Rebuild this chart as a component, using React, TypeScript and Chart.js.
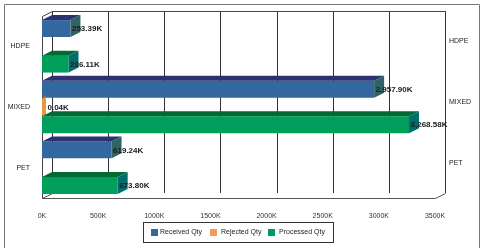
import React, { useEffect, useRef } from "react";
import { Chart, registerables } from "chart.js";

Chart.register(...registerables);

const categories = ["HDPE", "MIXED", "PET"];
const receivedQty: (number | null)[] = [253.39, 2957.9, 619.24];
const rejectedQty: (number | null)[] = [null, 0.04, null];
const processedQty: (number | null)[] = [236.11, 3268.58, 673.8];
const seriesNames = ["Received Qty", "Rejected Qty", "Processed Qty"];
const axisMax = 3500;
const axisStep = 500;

const FONT = "'Liberation Sans', Arial, sans-serif";
const DX = 10;
const DY = 5;

const faceColors = [
  { front: "#3466a0", top: "#2c3170", side: "#2e6464", legend: "#336699" },
  { front: "#e39a3a", top: "#b07024", side: "#9a6a2c", legend: "#f59a5a" },
  { front: "#00a05c", top: "#006a32", side: "#006e6e", legend: "#009966" },
];

const fmt = (v: number) =>
  v.toLocaleString("en-US", { minimumFractionDigits: 2, maximumFractionDigits: 2 }) + "K";

const threeD = {
  id: "threeD",
  beforeDatasetsDraw(chart: any) {
    const { ctx, chartArea: a, scales } = chart;
    const xs = scales.x;
    ctx.save();
    ctx.lineWidth = 1;
    ctx.strokeStyle = "#333";
    for (let v = 0; v <= axisMax; v += axisStep) {
      const px = Math.round(xs.getPixelForValue(v) + DX) + 0.5;
      ctx.beginPath();
      ctx.moveTo(px, a.top - DY);
      ctx.lineTo(px, a.bottom - DY);
      ctx.stroke();
    }
    const L = Math.round(a.left) + 0.5;
    const R = Math.round(a.right) + 0.5;
    const T = Math.round(a.top) + 0.5;
    const B = Math.round(a.bottom) + 0.5;
    ctx.strokeStyle = "#444";
    ctx.beginPath();
    ctx.moveTo(L + DX, T - DY);
    ctx.lineTo(R + DX, T - DY);
    ctx.stroke();
    ctx.beginPath();
    ctx.moveTo(L, B);
    ctx.lineTo(L, T);
    ctx.lineTo(L + DX, T - DY);
    ctx.stroke();
    ctx.strokeStyle = "#555";
    ctx.beginPath();
    ctx.moveTo(L + DX, B - DY);
    ctx.lineTo(L, B);
    ctx.lineTo(R, B);
    ctx.lineTo(R + DX, B - DY);
    ctx.stroke();
    ctx.restore();
  },
  afterDatasetsDraw(chart: any) {
    const { ctx } = chart;
    ctx.save();
    chart.data.datasets.forEach((ds: any, di: number) => {
      const meta = chart.getDatasetMeta(di);
      const c = faceColors[di];
      meta.data.forEach((el: any, i: number) => {
        if (ds.data[i] == null) return;
        const p = el.getProps(["x", "y", "base", "height"], true);
        const x0 = p.base;
        const yT = p.y - p.height / 2;
        const yB = p.y + p.height / 2;
        if (p.x - p.base < 6) {
          // tiny bar: only a small wedge on top
          const x1 = p.x;
          ctx.fillStyle = c.top;
          ctx.beginPath();
          ctx.moveTo(x0, yT);
          ctx.lineTo(x1, yT - 4);
          ctx.lineTo(x1, yT);
          ctx.closePath();
          ctx.fill();
          return;
        }
        const x1 = p.x;
        ctx.fillStyle = c.top;
        ctx.beginPath();
        ctx.moveTo(x0, yT);
        ctx.lineTo(x0 + DX, yT - DY);
        ctx.lineTo(x1 + DX, yT - DY);
        ctx.lineTo(x1, yT);
        ctx.closePath();
        ctx.fill();
        ctx.fillStyle = c.side;
        ctx.beginPath();
        ctx.moveTo(x1, yT);
        ctx.lineTo(x1 + DX, yT - DY);
        ctx.lineTo(x1 + DX, yB - DY);
        ctx.lineTo(x1, yB);
        ctx.closePath();
        ctx.fill();
      });
    });
    ctx.restore();
  },
  afterDraw(chart: any) {
    const { ctx, scales } = chart;
    ctx.save();
    ctx.font = `bold 8px ${FONT}`;
    ctx.fillStyle = "#1a1a1a";
    ctx.textAlign = "left";
    ctx.textBaseline = "middle";
    chart.data.datasets.forEach((ds: any, di: number) => {
      const meta = chart.getDatasetMeta(di);
      meta.data.forEach((el: any, i: number) => {
        const v = ds.data[i];
        if (v == null) return;
        const p = el.getProps(["x", "y", "base"], true);
        ctx.fillText(fmt(v), p.x + 1.5, p.y + 0.5);
      });
    });
    ctx.font = `7px ${FONT}`;
    ctx.fillStyle = "#222";
    categories.forEach((cat, i) => {
      const py = scales.y.getPixelForValue(i);
      ctx.fillText(cat, 449, py - 5);
    });
    const lx = 143.5, ly = 222.5, lw = 190, lh = 20;
    ctx.strokeStyle = "#333";
    ctx.lineWidth = 1;
    ctx.fillStyle = "#fff";
    ctx.fillRect(lx, ly, lw, lh);
    ctx.strokeRect(lx, ly, lw, lh);
    const items = [
      { sx: 151, tx: 160 },
      { sx: 210, tx: 221 },
      { sx: 268, tx: 279 },
    ];
    ctx.font = `7px ${FONT}`;
    items.forEach((it, k) => {
      ctx.fillStyle = faceColors[k].legend;
      ctx.fillRect(it.sx, 229, 7, 7);
      ctx.fillStyle = "#222";
      ctx.fillText(seriesNames[k], it.tx, 232.5);
    });
    ctx.strokeStyle = "#777";
    ctx.beginPath();
    ctx.moveTo(4.5, 250);
    ctx.lineTo(4.5, 4.5);
    ctx.lineTo(479.5, 4.5);
    ctx.lineTo(479.5, 250);
    ctx.stroke();
    ctx.restore();
  },
};

export default function App() {
  const ref = useRef<HTMLCanvasElement>(null);
  useEffect(() => {
    document.body.style.margin = "0";
    const chart = new Chart(ref.current!, {
      type: "bar",
      data: {
        labels: categories,
        datasets: [
          { label: seriesNames[0], data: receivedQty, backgroundColor: faceColors[0].front },
          { label: seriesNames[1], data: rejectedQty, backgroundColor: faceColors[1].front, minBarLength: 4 },
          { label: seriesNames[2], data: processedQty, backgroundColor: faceColors[2].front },
        ] as any,
      },
      options: {
        indexAxis: "y",
        animation: false,
        responsive: false,
        maintainAspectRatio: false,
        layout: { padding: { left: 0, right: 45, top: 16, bottom: 0 } },
        datasets: { bar: { categoryPercentage: 0.88, barPercentage: 0.95 } },
        plugins: { legend: { display: false }, tooltip: { enabled: false } },
        scales: {
          x: {
            min: 0,
            max: axisMax,
            grid: { display: false },
            border: { display: false },
            ticks: {
              stepSize: axisStep,
              autoSkip: false,
              maxRotation: 0,
              padding: 6,
              color: "#333",
              font: { size: 7, family: FONT },
              callback: (v: any) => v + "K",
            },
            afterFit: (s: any) => {
              s.height = 50;
            },
          },
          y: {
            grid: { display: false },
            border: { display: false },
            ticks: { padding: 4, color: "#222", font: { size: 7, family: FONT } },
            afterFit: (s: any) => {
              s.width = 42;
            },
          },
        },
      } as any,
      plugins: [threeD],
    });
    return () => chart.destroy();
  }, []);
  return (
    <div style={{ position: "absolute", left: 0, top: 0, width: 480, height: 248, background: "#fff" }}>
      <canvas ref={ref} width={480} height={248} style={{ width: 480, height: 248, display: "block" }} />
    </div>
  );
}
